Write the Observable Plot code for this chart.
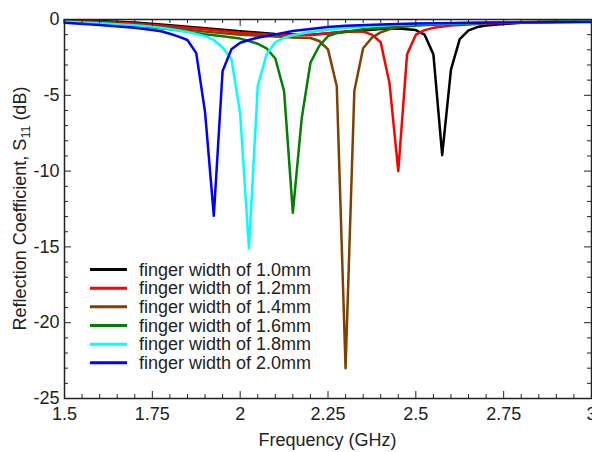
<!DOCTYPE html>
<html>
<head>
<meta charset="utf-8">
<script src="https://cdn.jsdelivr.net/npm/d3@7"></script>
<script src="https://cdn.jsdelivr.net/npm/@observablehq/plot@0.6"></script>
<style>
  html, body { margin: 0; padding: 0; background: #fff; }
  #chart { width: 592px; height: 452px; }
</style>
</head>
<body>
<div id="chart"></div>
<script>
// ---- Data ----
const seriesNames = [
  "finger width of 1.0mm",
  "finger width of 1.2mm",
  "finger width of 1.4mm",
  "finger width of 1.6mm",
  "finger width of 1.8mm",
  "finger width of 2.0mm"
];
const seriesColors = ["#000000", "#ff0000", "#804000", "#008000", "#00ffff", "#0000ff"];

const freq10 = [1.5, 1.6, 1.7, 1.8, 1.9, 2.0, 2.1, 2.2, 2.3, 2.4, 2.45, 2.5, 2.525, 2.55, 2.575, 2.6, 2.625, 2.65, 2.675, 2.7, 2.75, 2.8, 2.9, 3.0];
const s11_10 = [-0.05, -0.1, -0.2, -0.38, -0.58, -0.78, -0.95, -1.0, -0.82, -0.63, -0.6, -0.7, -1.0, -2.3, -8.95, -3.3, -1.3, -0.72, -0.5, -0.4, -0.3, -0.22, -0.15, -0.12];

const freq12 = [1.5, 1.6, 1.7, 1.8, 1.9, 2.0, 2.1, 2.2, 2.25, 2.3, 2.35, 2.375, 2.4, 2.425, 2.45, 2.475, 2.5, 2.525, 2.55, 2.6, 2.7, 2.8, 3.0];
const s11_12 = [-0.08, -0.15, -0.27, -0.45, -0.65, -0.87, -1.02, -1.02, -0.9, -0.78, -0.8, -1.0, -1.5, -4.2, -10.0, -2.3, -1.0, -0.7, -0.55, -0.4, -0.27, -0.2, -0.13];

const freq14 = [1.5, 1.6, 1.7, 1.8, 1.9, 2.0, 2.1, 2.15, 2.2, 2.225, 2.25, 2.275, 2.3, 2.325, 2.35, 2.375, 2.4, 2.425, 2.45, 2.5, 2.6, 2.7, 2.8, 3.0];
const s11_14 = [-0.1, -0.2, -0.35, -0.55, -0.8, -1.0, -1.12, -1.18, -1.22, -1.42, -1.97, -4.4, -23.0, -4.7, -1.9, -1.2, -0.85, -0.65, -0.52, -0.38, -0.25, -0.2, -0.16, -0.12];

const freq16 = [1.5, 1.6, 1.7, 1.8, 1.85, 1.9, 1.95, 2.0, 2.025, 2.05, 2.075, 2.1, 2.125, 2.15, 2.175, 2.2, 2.225, 2.25, 2.275, 2.3, 2.35, 2.4, 2.5, 2.6, 2.75, 3.0];
const s11_16 = [-0.12, -0.23, -0.4, -0.65, -0.8, -0.98, -1.1, -1.26, -1.42, -1.6, -1.9, -2.57, -4.72, -12.75, -6.55, -2.85, -1.75, -1.1, -0.9, -0.8, -0.65, -0.55, -0.4, -0.3, -0.2, -0.12];

const freq18 = [1.5, 1.6, 1.7, 1.75, 1.8, 1.85, 1.875, 1.9, 1.925, 1.95, 1.975, 2.0, 2.025, 2.05, 2.075, 2.1, 2.125, 2.15, 2.2, 2.25, 2.3, 2.4, 2.5, 2.75, 3.0];
const s11_18 = [-0.15, -0.25, -0.38, -0.47, -0.62, -0.82, -0.95, -1.1, -1.35, -1.85, -2.6, -6.2, -15.1, -4.4, -2.3, -1.5, -1.2, -1.04, -0.82, -0.69, -0.55, -0.4, -0.3, -0.2, -0.15];

const freq20 = [1.5, 1.6, 1.7, 1.75, 1.775, 1.8, 1.825, 1.85, 1.875, 1.9, 1.925, 1.95, 1.975, 2.0, 2.025, 2.05, 2.1, 2.15, 2.2, 2.25, 2.3, 2.4, 2.5, 2.75, 3.0];
const s11_20 = [-0.22, -0.36, -0.54, -0.69, -0.78, -0.94, -1.13, -1.35, -2.22, -6.1, -12.95, -3.4, -1.97, -1.53, -1.35, -1.2, -0.98, -0.76, -0.62, -0.5, -0.42, -0.33, -0.27, -0.2, -0.17];

const xMajorTicks = [1.5, 1.75, 2, 2.25, 2.5, 2.75, 3];
const xMinorTicks = [1.55, 1.6, 1.65, 1.7, 1.8, 1.85, 1.9, 1.95, 2.05, 2.1, 2.15, 2.2, 2.3, 2.35, 2.4, 2.45, 2.55, 2.6, 2.65, 2.7, 2.8, 2.85, 2.9, 2.95];
const yMajorTicks = [0, -5, -10, -15, -20, -25];
const yMinorTicks = [-1, -2, -3, -4, -6, -7, -8, -9, -11, -12, -13, -14, -16, -17, -18, -19, -21, -22, -23, -24];

// ---- Build table ----
const seriesFreq = [freq10, freq12, freq14, freq16, freq18, freq20];
const seriesS11 = [s11_10, s11_12, s11_14, s11_16, s11_18, s11_20];
const rows = [];
seriesNames.forEach((name, i) => {
  seriesFreq[i].forEach((f, j) => rows.push({name, f, s11: seriesS11[i][j]}));
});

const W = 592, H = 452;
const mL = 64, mR = 1, mT = 19, mB = 54;
const FW = W - mL - mR, FH = H - mT - mB;
const axisColor = "#222";

const svg = Plot.plot({
  width: W, height: H,
  marginLeft: mL, marginRight: mR, marginTop: mT, marginBottom: mB,
  style: {fontFamily: "'Liberation Sans', Arial, sans-serif", fontSize: "18px", color: "#222", background: "white", overflow: "visible"},
  x: {domain: [1.5, 3], ticks: xMajorTicks, tickSize: 0, tickPadding: 9, tickFormat: d => String(d), label: null},
  y: {domain: [-25, 0], ticks: yMajorTicks, tickSize: 0, tickPadding: 5, tickFormat: d => String(d), label: null},
  color: {domain: seriesNames, range: seriesColors},
  marks: [
    Plot.line(rows, {x: "f", y: "s11", z: "name", stroke: "name", strokeWidth: 2.5}),
    Plot.tickX(xMajorTicks, {x: d => d, insetTop: FH - 7, stroke: axisColor}),
    Plot.tickX(xMajorTicks, {x: d => d, insetBottom: FH - 7, stroke: axisColor}),
    Plot.tickX(xMinorTicks, {x: d => d, insetTop: FH - 4, stroke: axisColor}),
    Plot.tickX(xMinorTicks, {x: d => d, insetBottom: FH - 4, stroke: axisColor}),
    Plot.tickY(yMajorTicks, {y: d => d, insetRight: FW - 7, stroke: axisColor}),
    Plot.tickY(yMajorTicks, {y: d => d, insetLeft: FW - 7, stroke: axisColor}),
    Plot.tickY(yMinorTicks, {y: d => d, insetRight: FW - 4, stroke: axisColor}),
    Plot.tickY(yMinorTicks, {y: d => d, insetLeft: FW - 4, stroke: axisColor}),
    Plot.frame({stroke: axisColor, strokeWidth: 1.5})
  ]
});

const root = d3.select(svg);

// Legend
const lg = root.append("g").attr("font-size", "18px").attr("fill", "#222");
seriesNames.forEach((name, i) => {
  const y = 269.5 + i * 18.67;
  lg.append("line").attr("x1", 90).attr("x2", 127).attr("y1", y).attr("y2", y)
    .attr("stroke", seriesColors[i]).attr("stroke-width", 3);
  lg.append("text").attr("x", 139).attr("y", y).attr("dy", "0.35em")
    .attr("text-anchor", "start").text(name);
});

// Axis titles
root.append("text")
  .attr("x", mL + FW / 2).attr("y", 445.5)
  .attr("text-anchor", "middle").attr("fill", "#222").attr("font-size", "18px")
  .text("Frequency (GHz)");

const yl = root.append("text")
  .attr("transform", `translate(26,${mT + FH / 2}) rotate(-90)`)
  .attr("text-anchor", "middle").attr("fill", "#222").attr("font-size", "18px");
yl.append("tspan").text("Reflection Coefficient, S");
yl.append("tspan").attr("font-size", "12.5px").attr("dy", "4").text("11");
yl.append("tspan").attr("dy", "-4").text(" (dB)");

document.getElementById("chart").appendChild(svg);
</script>
</body>
</html>
